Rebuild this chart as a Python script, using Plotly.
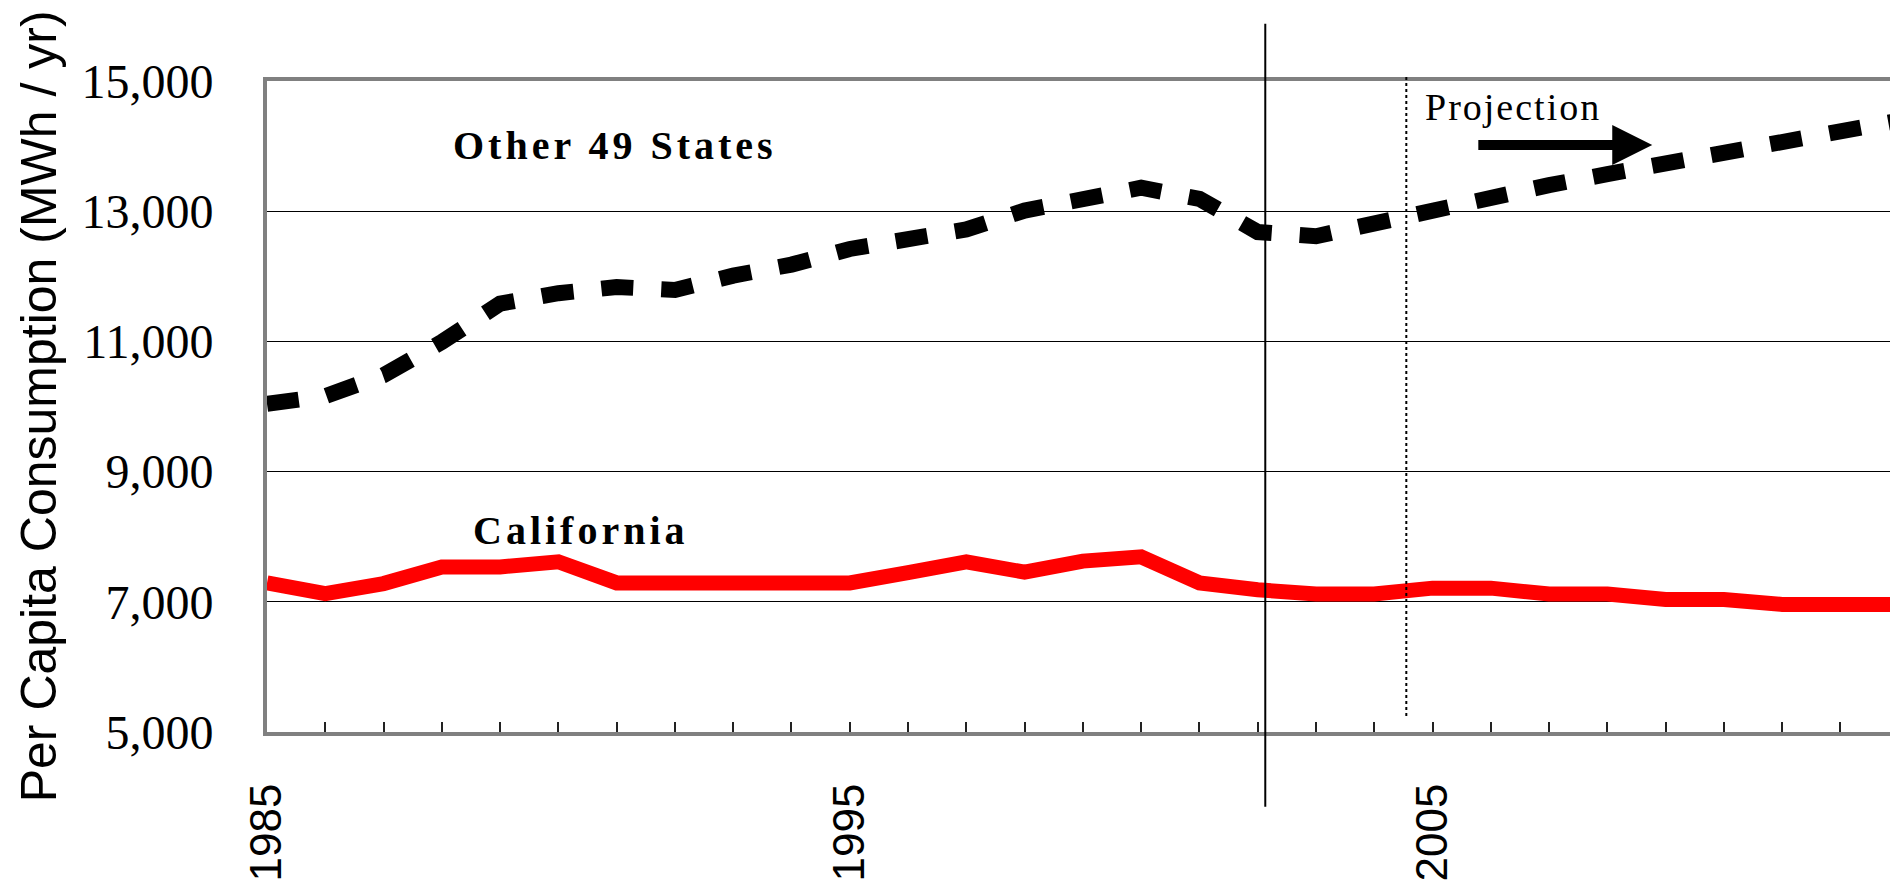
import plotly.graph_objects as go

# ---- data ----
years = list(range(1985, 2014))
california = [7290, 7125, 7280, 7535, 7535, 7615, 7290, 7290, 7290, 7290,
              7290, 7450, 7615, 7455, 7625, 7690, 7290, 7185, 7120, 7120,
              7210, 7210, 7120, 7120, 7035, 7035, 6960, 6960, 6960]
other49 = [10040, 10160, 10480, 10990, 11580, 11740, 11835, 11790, 12010, 12180,
           12420, 12550, 12720, 13010, 13180, 13360, 13190, 12680, 12615, 12825,
           13005, 13210, 13400, 13570, 13740, 13905, 14070, 14230, 14390]
year_labels = {1985: "1985", 1995: "1995", 2005: "2005"}
y_ticks = [5000, 7000, 9000, 11000, 13000, 15000]
historical_line_year = 2002.13
projection_start_year = 2004.55

W, H = 1890, 881
fig = go.Figure()

fig.add_trace(go.Scatter(x=years, y=california, mode="lines", name="California",
                         line=dict(color="#ff0000", width=15), showlegend=False))
fig.add_trace(go.Scatter(x=years, y=other49, mode="lines", name="Other 49 States",
                         line=dict(color="#000000", width=16, dash="32px,28px"),
                         showlegend=False))

# vertical reference lines
fig.add_shape(type="line", xref="x", yref="paper",
              x0=historical_line_year, x1=historical_line_year, y0=1.088, y1=-0.115,
              line=dict(color="black", width=2), layer="above")
fig.add_shape(type="line", xref="x", yref="paper",
              x0=projection_start_year, x1=projection_start_year, y0=1.006, y1=0.021,
              line=dict(color="black", width=2, dash="3px,3px"), layer="above")

serif = "Liberation Serif, Times New Roman, serif"
sans = "Liberation Sans, Arial, sans-serif"

fig.add_annotation(x=1988.16, y=14005, xref="x", yref="y", xanchor="left", yanchor="middle",
                   text='<span style="letter-spacing:4px">Other 49 States</span>',
                   showarrow=False, font=dict(family=serif, size=40, color="black", weight="bold"))
fig.add_annotation(x=1988.5, y=8093, xref="x", yref="y", xanchor="left", yanchor="middle",
                   text='<span style="letter-spacing:4px">California</span>',
                   showarrow=False, font=dict(family=serif, size=40, color="black", weight="bold"))
fig.add_annotation(x=2004.84, y=14602, xref="x", yref="y", xanchor="left", yanchor="middle",
                   text='<span style="letter-spacing:2px">Projection</span>',
                   showarrow=False, font=dict(family=serif, size=38, color="black"))
fig.add_annotation(x=2008.77, y=14017, ax=2005.76, ay=14017, xref="x", yref="y",
                   axref="x", ayref="y", text="", showarrow=True,
                   arrowhead=2, arrowwidth=10, arrowsize=0.8, arrowcolor="black", standoff=0)

# y-axis title
fig.add_annotation(x=-0.1406, y=0.5, xref="paper", yref="paper", textangle=-90,
                   xanchor="center", yanchor="middle", showarrow=False,
                   text="Per Capita Consumption (MWh / yr)",
                   font=dict(family=sans, size=50, color="black"))

fig.update_layout(
    width=W, height=H,
    margin=dict(l=267, r=0, t=81, b=142),
    paper_bgcolor="white", plot_bgcolor="white",
    showlegend=False,
)
fig.update_xaxes(
    range=[1985, 2012.85],
    tickvals=years,
    ticktext=[year_labels.get(y, "") for y in years],
    tickangle=-90,
    ticks="inside", ticklen=10, tickwidth=1.5, tickcolor="#222",
    showline=True, mirror=True, linecolor="#808080", linewidth=4,
    showgrid=False, zeroline=False,
    tickfont=dict(family=sans, size=44, color="black"),
    ticklabelstandoff=30,
)
fig.update_yaxes(
    range=[5000, 15000],
    tickvals=y_ticks,
    ticktext=[f"{v:,}" for v in y_ticks],
    ticks="",
    showline=True, linecolor="#808080", linewidth=4,
    showgrid=True, gridcolor="#000000", gridwidth=1.2,
    zeroline=False,
    tickfont=dict(family=serif, size=48, color="black"),
    ticklabelstandoff=40,
)

fig.write_html("out.html", config={"displayModeBar": False},
               post_script="document.body.style.margin='0';")
